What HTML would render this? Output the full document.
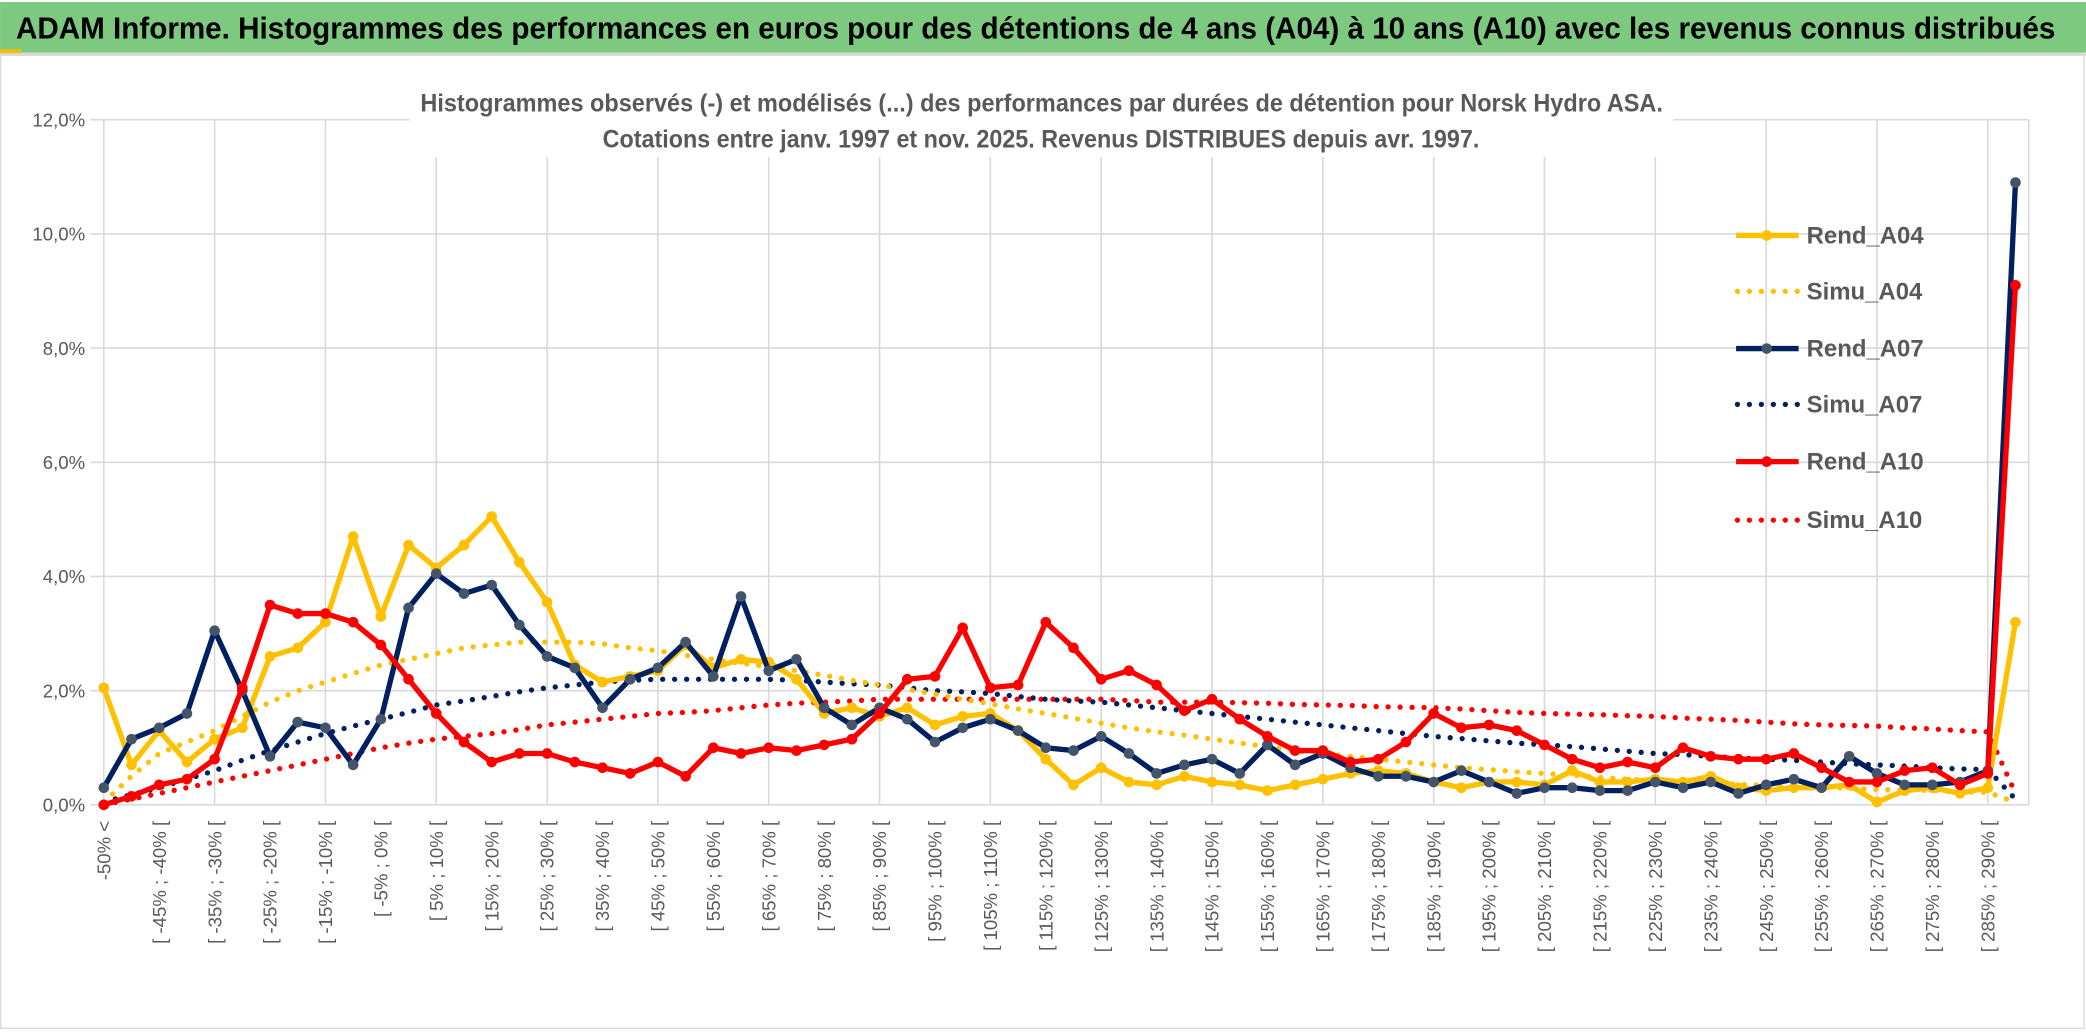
<!DOCTYPE html>
<html><head><meta charset="utf-8">
<style>
html,body{margin:0;padding:0;background:#fff;}
svg{display:block;font-family:"Liberation Sans Narrow","Liberation Sans",sans-serif;}
</style></head>
<body>
<svg id="chart" width="2086" height="1033" viewBox="0 0 1568 776.5" xmlns="http://www.w3.org/2000/svg">
<rect x="0" y="0" width="1568" height="776.5" fill="#fff"/>
<rect x="0.5" y="40" width="1566" height="733" fill="none" stroke="#d9d9d9" stroke-width="1"/>
<rect x="0" y="1.5" width="1568" height="38" fill="#7dc97f"/>
<rect x="0" y="37" width="16" height="3" fill="#f5c000"/>
<rect x="0" y="40" width="1568" height="2" fill="#d9d9d9"/>
<text x="12" y="29" font-size="23" font-weight="bold" fill="#000" textLength="1533" lengthAdjust="spacingAndGlyphs">ADAM Informe. Histogrammes des performances en euros pour des détentions de 4 ans (A04) à 10 ans (A10) avec les revenus connus distribués</text>
<g id="grid"></g>
<rect x="308" y="62" width="950" height="56" fill="#fff"/>
<text x="316" y="84" font-size="19" font-weight="bold" fill="#595959" textLength="934" lengthAdjust="spacingAndGlyphs">Histogrammes observés (-) et modélisés (...) des performances par durées de détention pour Norsk Hydro ASA.</text>
<text x="453" y="111" font-size="19" font-weight="bold" fill="#595959" textLength="659" lengthAdjust="spacingAndGlyphs">Cotations entre janv. 1997 et nov. 2025. Revenus DISTRIBUES depuis avr. 1997.</text>
<g id="xlabels"></g>
<g id="ylabels"></g>
<g id="series"></g>
<g id="legend"></g>
</svg>
<script>
const rendA04=[2.05,0.7,1.3,0.75,1.15,1.35,2.6,2.75,3.2,4.7,3.3,4.55,4.15,4.55,5.05,4.25,3.55,2.45,2.15,2.25,2.35,2.8,2.4,2.55,2.5,2.2,1.6,1.7,1.55,1.7,1.4,1.55,1.6,1.3,0.8,0.35,0.65,0.4,0.35,0.5,0.4,0.35,0.25,0.35,0.45,0.55,0.6,0.55,0.4,0.3,0.4,0.4,0.35,0.6,0.4,0.4,0.45,0.4,0.5,0.3,0.25,0.3,0.3,0.35,0.05,0.25,0.3,0.2,0.3,3.2];
const simuA04=[0.05,0.5,0.9,1.1,1.3,1.55,1.8,2.0,2.15,2.3,2.45,2.55,2.65,2.75,2.8,2.85,2.85,2.85,2.82,2.75,2.7,2.62,2.55,2.48,2.42,2.35,2.27,2.18,2.1,2.02,1.94,1.85,1.77,1.68,1.6,1.52,1.43,1.35,1.28,1.22,1.15,1.08,1.02,0.95,0.9,0.85,0.8,0.75,0.7,0.65,0.62,0.58,0.55,0.52,0.48,0.45,0.43,0.4,0.38,0.36,0.34,0.32,0.31,0.29,0.27,0.26,0.25,0.23,0.22,0.05];
const rendA07=[0.3,1.15,1.35,1.6,3.05,2.0,0.85,1.45,1.35,0.7,1.5,3.45,4.05,3.7,3.85,3.15,2.6,2.4,1.7,2.2,2.4,2.85,2.25,3.65,2.35,2.55,1.7,1.4,1.7,1.5,1.1,1.35,1.5,1.3,1.0,0.95,1.2,0.9,0.55,0.7,0.8,0.55,1.05,0.7,0.9,0.65,0.5,0.5,0.4,0.6,0.4,0.2,0.3,0.3,0.25,0.25,0.4,0.3,0.4,0.2,0.35,0.45,0.3,0.85,0.55,0.35,0.35,0.4,0.6,10.9];
const simuA07=[0.05,0.18,0.3,0.45,0.6,0.78,0.95,1.1,1.25,1.38,1.5,1.62,1.75,1.82,1.9,1.98,2.05,2.1,2.15,2.18,2.2,2.2,2.2,2.2,2.2,2.18,2.15,2.12,2.1,2.05,2.0,1.98,1.95,1.9,1.85,1.82,1.8,1.75,1.7,1.65,1.6,1.55,1.5,1.45,1.4,1.35,1.3,1.25,1.2,1.16,1.12,1.08,1.05,1.02,0.98,0.94,0.9,0.88,0.85,0.82,0.8,0.78,0.75,0.72,0.7,0.68,0.65,0.63,0.62,0.1];
const rendA10=[0.0,0.15,0.35,0.45,0.8,2.05,3.5,3.35,3.35,3.2,2.8,2.2,1.6,1.1,0.75,0.9,0.9,0.75,0.65,0.55,0.75,0.5,1.0,0.9,1.0,0.95,1.05,1.15,1.6,2.2,2.25,3.1,2.05,2.1,3.2,2.75,2.2,2.35,2.1,1.65,1.85,1.5,1.2,0.95,0.95,0.75,0.8,1.1,1.6,1.35,1.4,1.3,1.05,0.8,0.65,0.75,0.65,1.0,0.85,0.8,0.8,0.9,0.65,0.4,0.4,0.6,0.65,0.35,0.55,9.1];
const simuA10=[0.0,0.1,0.2,0.3,0.4,0.5,0.6,0.7,0.8,0.9,1.0,1.08,1.15,1.2,1.25,1.32,1.4,1.45,1.5,1.55,1.6,1.62,1.65,1.7,1.75,1.78,1.8,1.82,1.85,1.85,1.85,1.85,1.85,1.85,1.85,1.85,1.85,1.83,1.8,1.8,1.8,1.79,1.78,1.76,1.75,1.74,1.72,1.71,1.7,1.68,1.65,1.62,1.6,1.59,1.58,1.56,1.55,1.52,1.5,1.48,1.45,1.42,1.4,1.39,1.38,1.35,1.33,1.3,1.28,0.2];
const yTicks=[0,2,4,6,8,10,12];
const yTickLabels=["0,0%","2,0%","4,0%","6,0%","8,0%","10,0%","12,0%"];
const legendNames=["Rend_A04","Simu_A04","Rend_A07","Simu_A07","Rend_A10","Simu_A10"];

const NS="http://www.w3.org/2000/svg";
const N=rendA04.length;
const X0=78, X1=1515, Y0=605, YMAX=12, YTOP=90;
const xs=k=>X0+(X1-X0)*k/(N-1);
const ys=v=>Y0-(Y0-YTOP)*v/YMAX;
function mk(tag,attrs,parent){const e=document.createElementNS(NS,tag);for(const a in attrs)e.setAttribute(a,attrs[a]);parent.appendChild(e);return e;}
function cat(k){if(k===0)return "-50% <";const lo=-55+5*k;return "[ "+lo+"% ; "+(lo+5)+"% [";}

const grid=document.getElementById('grid');
for(let i=0;i<yTicks.length;i++){
  const l=mk('line',{x1:68,x2:1525,y1:ys(yTicks[i]),y2:ys(yTicks[i]),stroke:'#d9d9d9','stroke-width':1.2},grid);
  
  
  const t=mk('text',{x:64,y:ys(yTicks[i])+5,'text-anchor':'end','font-size':14,fill:'#595959'},document.getElementById('ylabels'));
  t.textContent=yTickLabels[i];
  
  
}
for(let k=0;k<N;k+=4){
  const l=mk('line',{x1:xs(k),x2:xs(k),y1:YTOP,y2:Y0,stroke:'#d9d9d9','stroke-width':1.2},grid);
  
  
}
mk('line',{x1:1525,x2:1525,y1:YTOP,y2:Y0,stroke:'#d9d9d9','stroke-width':1.2},grid);
const xl=document.getElementById('xlabels');
for(let k=0;k<N-1;k+=2){
  const x=xs(k)+5, y=617;
  const t=mk('text',{x:x,y:y,'text-anchor':'end','font-size':14,fill:'#595959',transform:`rotate(-90 ${x} ${y})`},xl);
  t.textContent=cat(k);
  
  
}
const ser=document.getElementById('series');
function pts(arr){return arr.map((v,k)=>xs(k).toFixed(1)+','+ys(v).toFixed(1)).join(' ');}
function dotted(arr,color,name){
  const p=mk('polyline',{points:pts(arr),fill:'none',stroke:color,'stroke-width':4,'stroke-dasharray':'0 9','stroke-linecap':'round'},ser);
  
  
}
function solid(arr,color,mcolor,name){
  const g=mk('g',{},ser);
  
  
  mk('polyline',{points:pts(arr),fill:'none',stroke:color,'stroke-width':4,'stroke-linejoin':'round'},g);
  arr.forEach((v,k)=>{
    const c=mk('circle',{cx:xs(k),cy:ys(v),r:4,fill:mcolor},g);
    
    
  });
}
dotted(simuA10,'#ff0000','simu-a10-line');
dotted(simuA07,'#002060','simu-a07-line');
dotted(simuA04,'#ffc000','simu-a04-line');
solid(rendA04,'#ffc000','#ffc000','rend-a04-line');
solid(rendA07,'#002060','#44546a','rend-a07-line');
solid(rendA10,'#ff0000','#ff0000','rend-a10-line');

const lg=document.getElementById('legend');
const lgColors=['#ffc000','#ffc000','#002060','#002060','#ff0000','#ff0000'];
const lgY=[177,219,262,304,347,391];
legendNames.forEach((n,i)=>{
  const g=mk('g',{},lg);
  
  
  if(i%2===0){
    mk('line',{x1:1305,x2:1352,y1:lgY[i],y2:lgY[i],stroke:lgColors[i],'stroke-width':4},g);
    mk('circle',{cx:1328,cy:lgY[i],r:4,fill:i===2?'#44546a':lgColors[i]},g);
  }else{
    mk('line',{x1:1306,x2:1352,y1:lgY[i],y2:lgY[i],stroke:lgColors[i],'stroke-width':4,'stroke-dasharray':'0 9','stroke-linecap':'round'},g);
  }
  const t=mk('text',{x:1358,y:lgY[i]+6,'font-size':18,'font-weight':'bold',fill:'#595959'},g);
  t.textContent=n;
});
</script>
</body></html>
